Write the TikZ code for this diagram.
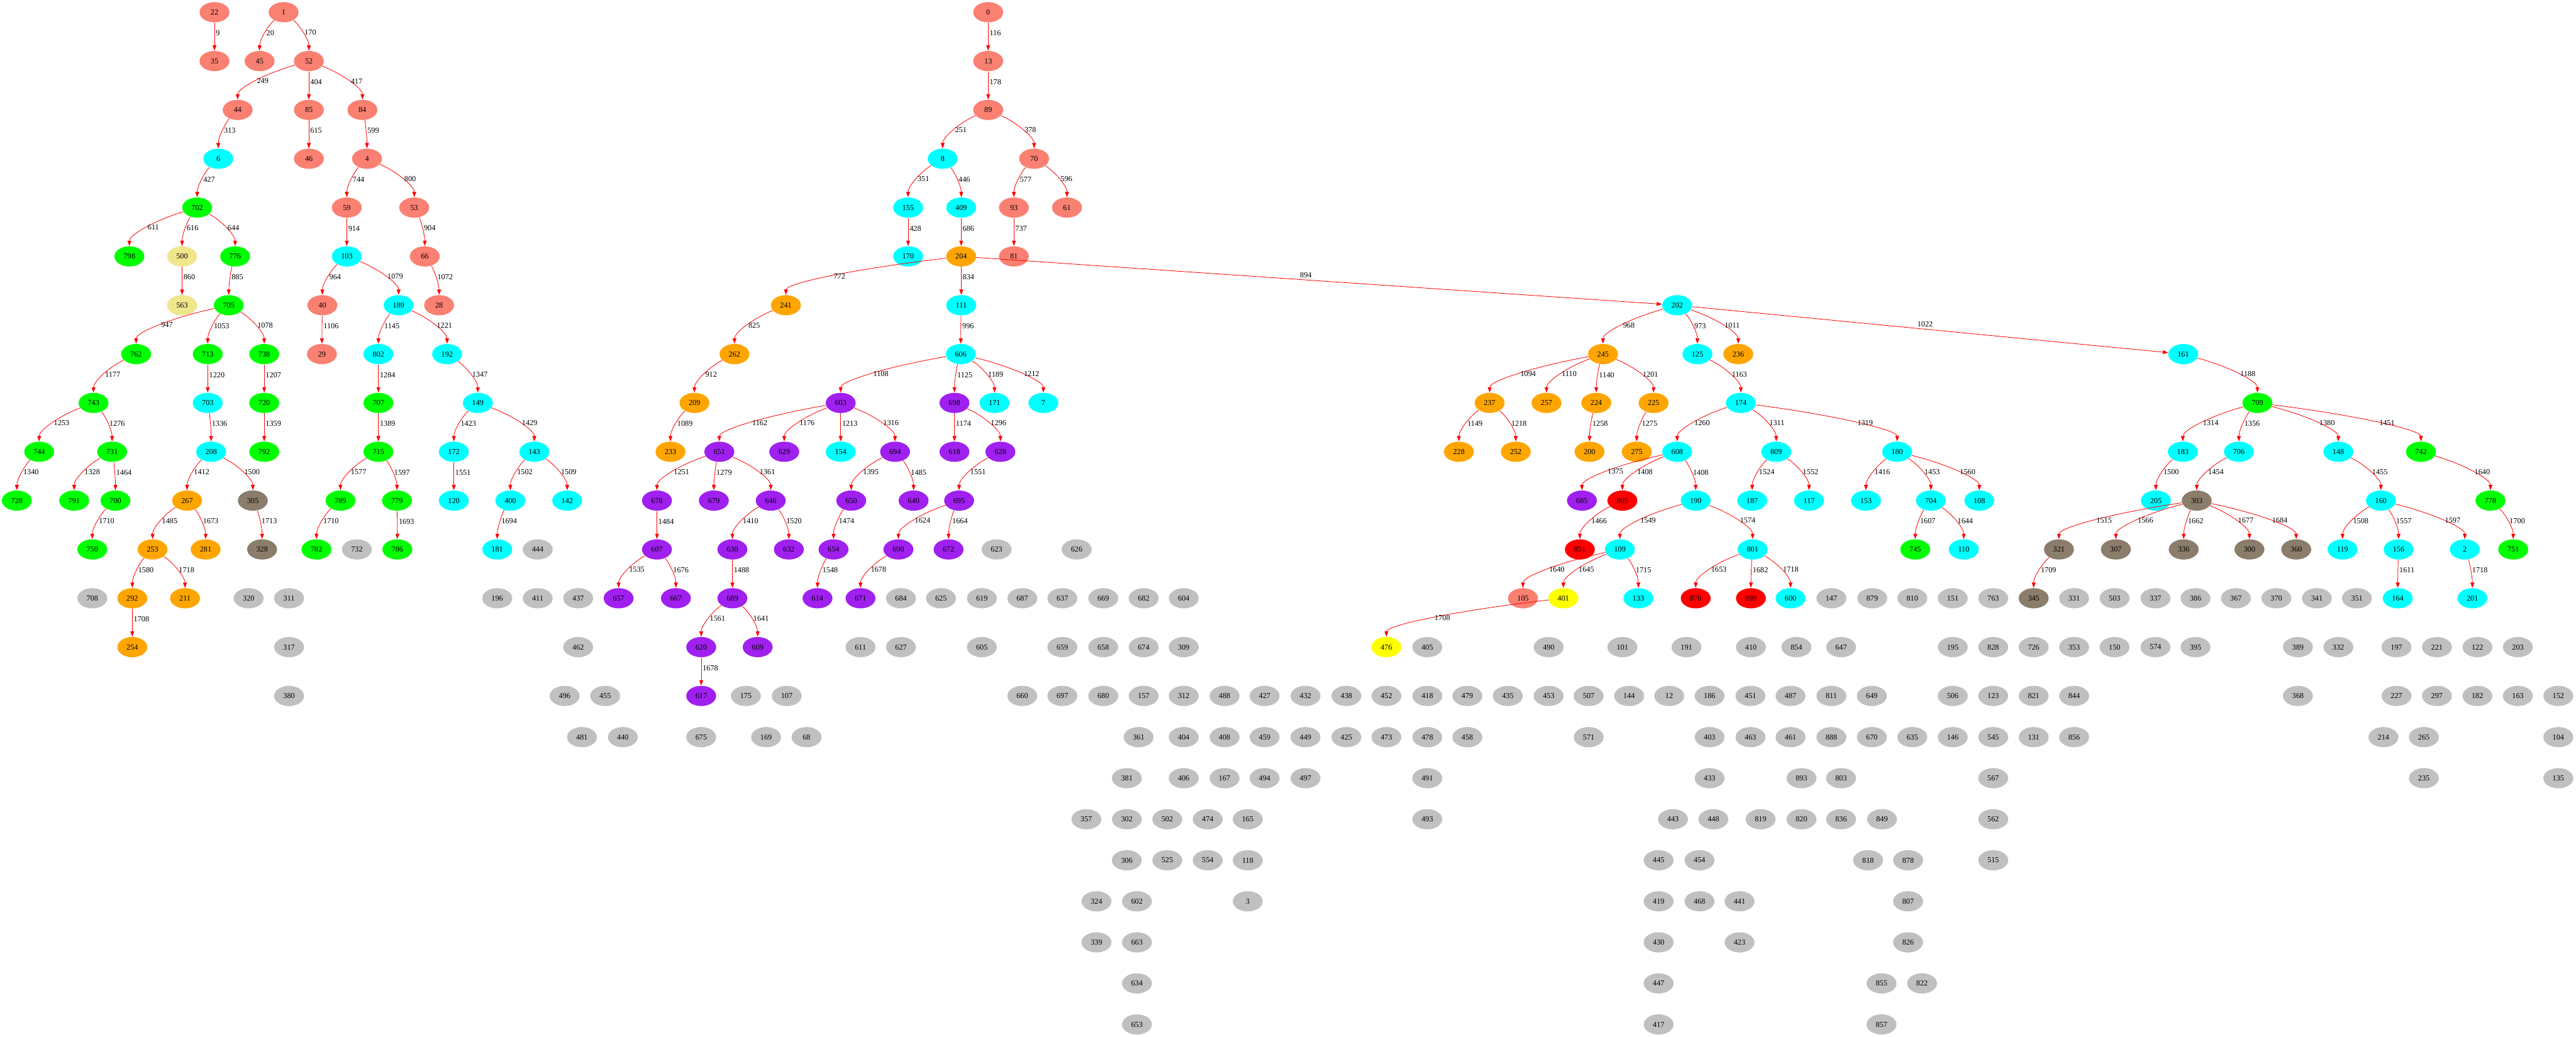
\documentclass[tikz,border=0pt]{standalone}
\usepackage{fontspec}
\setmainfont{Liberation Serif}
\usetikzlibrary{shapes.geometric,arrows.meta,calc}

\definecolor{gvsalmon}{HTML}{FA8072}
\definecolor{gvcyan}{HTML}{00FFFF}
\definecolor{gvgreen}{HTML}{00FF00}
\definecolor{gvkhaki}{HTML}{F0E68C}
\definecolor{gvorange}{HTML}{FFA500}
\definecolor{gvpurple}{HTML}{A020F0}
\definecolor{gvred}{HTML}{FF0000}
\definecolor{gvyellow}{HTML}{FFFF00}
\definecolor{gvtaupe}{HTML}{8B7D6B}
\definecolor{gvgray}{HTML}{C0C0C0}

\tikzset{
  vtx/.style={ellipse, inner sep=0pt, minimum width=7.1mm, minimum height=4.8mm,
    font=\fontsize{5.2}{6}\selectfont},
  salv/.style={vtx, fill=gvsalmon},
  cyav/.style={vtx, fill=gvcyan},
  grnv/.style={vtx, fill=gvgreen},
  khav/.style={vtx, fill=gvkhaki},
  orav/.style={vtx, fill=gvorange},
  purv/.style={vtx, fill=gvpurple},
  redv/.style={vtx, fill=gvred},
  yelv/.style={vtx, fill=gvyellow},
  taupv/.style={vtx, fill=gvtaupe},
  grayv/.style={vtx, fill=gvgray},
  link/.style={draw=gvred, line width=0.35pt, -{Triangle[length=1.25mm,width=0.9mm]}},
  elab/.style={font=\fontsize{5.2}{6}\selectfont, inner sep=0.8pt},
}

% curved edge: leaves toward the child, enters it from above
\newcommand{\lnk}[3]{%
  \draw[link] let \p1=(n#1), \p2=(n#2) in
    (n#1) .. controls ({\x1+0.6*(\x2-\x1)},{\y1+0.25*(\y2-\y1)})
            and ({\x2},{\y2-0.45*(\y2-\y1)}) .. (n#2)
    node[elab, pos=0.5, anchor=west] {#3};}
% long, nearly flat edge
\newcommand{\lnkflat}[3]{%
  \draw[link] (n#1) -- (n#2) node[elab, pos=0.47, anchor=south west] {#3};}

\begin{document}
\begin{tikzpicture}
  \path[use as bounding box, fill=white] (0,0) rectangle (61.13,-24.61);

  % salmon vertices
  \foreach \n/\x/\r in {22/5.09/0, 1/6.73/0, 0/23.45/0, 35/5.09/1, 45/6.16/1, 52/7.33/1,
      13/23.45/1, 44/5.64/2, 85/7.33/2, 84/8.60/2, 89/23.45/2, 46/7.33/3, 4/8.71/3,
      70/24.54/3, 59/8.23/4, 53/9.83/4, 93/24.06/4, 61/25.32/4, 66/10.08/5, 81/24.06/5,
      40/7.65/6, 28/10.42/6, 29/7.64/7, 105/36.14/12}
    \node[salv] (n\n) at (\x,{-0.29-1.159*\r}) {\n};

  % cyan vertices
  \foreach \n/\x/\r in {6/5.18/3, 8/22.37/3, 155/21.55/4, 409/22.81/4, 103/8.23/5,
      170/21.55/5, 189/9.46/6, 111/22.81/6, 202/39.80/6, 802/8.98/7, 192/10.61/7,
      606/22.80/7, 125/40.28/7, 161/51.81/7, 703/4.93/8, 149/11.34/8, 171/23.60/8,
      7/24.76/8, 174/41.31/8, 208/5.01/9, 172/10.77/9, 143/12.68/9, 154/19.95/9,
      608/39.80/9, 809/42.15/9, 180/45.02/9, 183/51.80/9, 706/53.13/9, 148/55.49/9,
      120/10.77/10, 400/12.11/10, 142/13.46/10, 190/40.24/10, 187/41.58/10,
      117/42.93/10, 153/44.28/10, 704/45.82/10, 108/46.97/10, 205/51.16/10,
      160/56.50/10, 181/11.80/11, 109/38.44/11, 801/41.59/11, 110/46.60/11,
      119/55.59/11, 156/56.92/11, 2/58.49/11, 133/38.88/12, 600/42.49/12,
      164/56.90/12, 201/58.67/12}
    \node[cyav] (n\n) at (\x,{-0.29-1.159*\r}) {\n};

  % green vertices
  \foreach \n/\x/\r in {702/4.68/4, 798/3.07/5, 776/5.58/5, 705/5.43/6, 762/3.23/7,
      713/4.93/7, 738/6.27/7, 743/2.22/8, 720/6.27/8, 707/8.98/8, 709/53.57/8,
      744/0.93/9, 731/2.66/9, 792/6.27/9, 715/8.98/9, 742/57.45/9, 728/0.40/10,
      791/1.76/10, 700/2.74/10, 789/8.08/10, 779/9.42/10, 778/59.10/10, 750/2.19/11,
      782/7.51/11, 786/9.43/11, 745/45.45/11, 751/59.64/11}
    \node[grnv] (n\n) at (\x,{-0.29-1.159*\r}) {\n};

  % khaki, orange, red, yellow vertices
  \foreach \n/\x/\r in {500/4.32/5, 563/4.32/6}
    \node[khav] (n\n) at (\x,{-0.29-1.159*\r}) {\n};
  \foreach \n/\x/\r in {204/22.81/5, 241/18.65/6, 262/17.43/7, 245/38.04/7, 236/41.25/7,
      209/16.48/8, 237/35.35/8, 257/36.70/8, 224/37.88/8, 225/39.24/8, 233/15.91/9,
      228/34.62/9, 252/35.97/9, 200/37.72/9, 275/38.84/9, 267/4.44/10, 253/3.62/11,
      281/4.88/11, 292/3.14/12, 211/4.39/12, 254/3.14/13}
    \node[orav] (n\n) at (\x,{-0.29-1.159*\r}) {\n};
  \foreach \n/\x/\r in {805/38.50/10, 851/37.49/11, 876/40.24/12, 899/41.55/12}
    \node[redv] (n\n) at (\x,{-0.29-1.159*\r}) {\n};
  \foreach \n/\x/\r in {401/37.10/12, 476/32.90/13}
    \node[yelv] (n\n) at (\x,{-0.29-1.159*\r}) {\n};

  % purple vertices
  \foreach \n/\x/\r in {603/19.95/8, 698/22.65/8, 651/17.07/9, 629/18.61/9, 694/21.24/9,
      618/22.65/9, 628/23.74/9, 678/15.59/10, 679/16.94/10, 646/18.29/10, 650/20.20/10,
      640/21.68/10, 695/22.76/10, 685/37.54/10, 607/15.59/11, 630/17.38/11,
      632/18.72/11, 654/19.78/11, 690/21.32/11, 672/22.51/11, 657/14.68/12,
      667/16.04/12, 689/17.38/12, 614/19.40/12, 671/20.42/12, 620/16.64/13,
      609/17.98/13, 617/16.64/14}
    \node[purv] (n\n) at (\x,{-0.29-1.159*\r}) {\n};

  % taupe vertices
  \foreach \n/\x/\r in {305/6.00/10, 303/52.13/10, 328/6.22/11, 321/48.86/11,
      307/50.21/11, 336/51.82/11, 300/53.38/11, 360/54.49/11, 345/48.26/12}
    \node[taupv] (n\n) at (\x,{-0.29-1.159*\r}) {\n};

  % gray vertices on the ranks
  \foreach \n/\x/\r in {732/8.47/11, 444/12.76/11, 623/23.65/11, 626/25.55/11,
      708/2.19/12, 320/5.90/12, 311/6.86/12, 196/11.80/12, 411/12.76/12, 437/13.72/12,
      684/21.38/12, 625/22.33/12, 619/23.30/12, 687/24.26/12, 637/25.21/12,
      669/26.18/12, 682/27.14/12, 604/28.09/12, 147/43.46/12, 879/44.43/12,
      810/45.38/12, 151/46.34/12, 763/47.30/12, 331/49.22/12, 503/50.18/12,
      337/51.15/12, 386/52.10/12, 367/53.06/12, 370/54.02/12, 341/54.98/12,
      351/55.93/12,
      317/6.86/13, 462/13.72/13, 611/20.42/13, 627/21.38/13, 605/23.30/13,
      659/25.21/13, 658/26.18/13, 674/27.14/13, 309/28.09/13, 405/33.87/13,
      490/36.75/13, 101/38.50/13, 191/40.02/13, 410/41.55/13, 854/42.63/13,
      647/43.69/13, 195/46.34/13, 828/47.30/13, 726/48.26/13, 353/49.22/13,
      150/50.18/13, 574/51.15/13, 395/52.10/13, 389/54.53/13, 332/55.49/13,
      197/56.87/13, 221/57.83/13, 122/58.79/13, 203/59.75/13,
      380/6.86/14, 496/13.40/14, 455/14.36/14, 175/17.70/14, 107/18.67/14,
      660/24.26/14, 697/25.21/14, 680/26.18/14, 157/27.14/14, 312/28.09/14,
      488/29.06/14, 427/30.01/14, 432/30.98/14, 438/31.95/14, 452/32.90/14,
      418/33.87/14, 479/34.82/14, 435/35.78/14, 453/36.75/14, 507/37.70/14,
      144/38.66/14, 12/39.61/14, 186/40.57/14, 451/41.54/14, 487/42.49/14,
      811/43.46/14, 649/44.42/14, 506/46.34/14, 123/47.30/14, 821/48.26/14,
      844/49.22/14, 368/54.53/14, 227/56.87/14, 297/57.83/14, 182/58.79/14,
      163/59.75/14, 152/60.71/14}
    \node[grayv] (n\n) at (\x,{-0.29-1.159*\r}) {\n};

  % gray vertices packed below
  \foreach \n/\x/\r in {481/13.81/1, 440/14.78/1, 675/16.64/1, 169/18.18/1, 68/19.14/1,
      361/27.02/1, 404/28.09/1, 408/29.06/1, 459/30.01/1, 449/30.98/1, 425/31.95/1,
      473/32.90/1, 478/33.87/1, 458/34.82/1, 571/37.70/1, 403/40.57/1, 463/41.54/1,
      461/42.49/1, 888/43.46/1, 670/44.42/1, 635/45.38/1, 146/46.34/1, 545/47.30/1,
      131/48.26/1, 856/49.22/1, 214/56.56/1, 265/57.52/1, 104/60.71/1,
      381/26.74/2, 406/28.09/2, 167/29.06/2, 494/30.01/2, 497/30.98/2, 491/33.87/2,
      433/40.57/2, 893/42.75/2, 803/43.69/2, 567/47.30/2, 235/57.52/2, 135/60.71/2,
      357/25.78/3, 302/26.74/3, 502/27.70/3, 474/28.66/3, 165/29.61/3, 493/33.87/3,
      443/39.70/3, 448/40.66/3, 819/41.78/3, 820/42.75/3, 836/43.69/3, 849/44.66/3,
      562/47.30/3,
      306/26.74/4, 525/27.70/4, 554/28.66/4, 118/29.61/4, 445/39.36/4, 454/40.33/4,
      818/44.33/4, 878/45.28/4, 515/47.30/4,
      324/26.02/5, 602/26.98/5, 3/29.61/5, 419/39.36/5, 468/40.33/5, 441/41.28/5,
      807/45.28/5,
      339/26.02/6, 663/26.98/6, 430/39.36/6, 423/41.28/6, 826/45.28/6,
      634/26.98/7, 447/39.36/7, 855/44.65/7, 822/45.61/7,
      653/26.98/8, 417/39.36/8, 857/44.65/8}
    \node[grayv] (n\n) at (\x,{-16.52-0.974*\r}) {\n};

  % left trees
  \foreach \a/\b/\w in {22/35/9, 1/45/20, 1/52/170, 52/44/249, 52/85/404, 52/84/417,
      44/6/313, 85/46/615, 84/4/599, 6/702/427, 4/59/744, 4/53/800, 702/798/611,
      702/500/616, 702/776/644, 59/103/914, 53/66/904, 500/563/860, 776/705/885,
      103/40/964, 103/189/1079, 66/28/1072, 705/762/947, 705/713/1053, 705/738/1078,
      40/29/1106, 189/802/1145, 189/192/1221, 762/743/1177, 713/703/1220,
      738/720/1207, 802/707/1284, 192/149/1347, 743/744/1253, 743/731/1276,
      703/208/1336, 720/792/1359, 707/715/1389, 149/172/1423, 149/143/1429,
      744/728/1340, 731/791/1328, 731/700/1464, 208/267/1412, 208/305/1500,
      715/789/1577, 715/779/1597, 172/120/1551, 143/400/1502, 143/142/1509,
      700/750/1710, 267/253/1485, 267/281/1673, 305/328/1713, 789/782/1710,
      779/786/1693, 400/181/1694, 253/292/1580, 253/211/1718, 292/254/1708}
    \lnk{\a}{\b}{\w};

  % tree of 0
  \foreach \a/\b/\w in {0/13/116, 13/89/178, 89/8/251, 89/70/378, 8/155/351, 8/409/446,
      70/93/577, 70/61/596, 155/170/428, 409/204/686, 93/81/737, 204/241/772,
      204/111/834, 241/262/825, 111/606/996, 262/209/912, 209/233/1089,
      606/603/1108, 606/698/1125, 606/171/1189, 606/7/1212, 603/651/1162,
      603/629/1176, 603/154/1213, 603/694/1316, 698/618/1174, 698/628/1296,
      651/678/1251, 651/679/1279, 651/646/1361, 694/650/1395, 694/640/1485,
      628/695/1551, 678/607/1484, 646/630/1410, 646/632/1520, 650/654/1474,
      695/690/1624, 695/672/1664, 607/657/1535, 607/667/1676, 630/689/1488,
      654/614/1548, 690/671/1678, 689/620/1561, 689/609/1641, 620/617/1678}
    \lnk{\a}{\b}{\w};

  % subtree of 202
  \lnkflat{204}{202}{894}
  \lnkflat{202}{161}{1022}
  \foreach \a/\b/\w in {202/245/968, 202/125/973, 202/236/1011, 245/237/1094,
      245/257/1110, 245/224/1140, 245/225/1201, 125/174/1163, 237/228/1149,
      237/252/1218, 224/200/1258, 225/275/1275, 174/608/1260, 174/809/1311,
      174/180/1319, 608/685/1375, 608/805/1408, 608/190/1408, 809/187/1524,
      809/117/1552, 180/153/1416, 180/704/1453, 180/108/1560, 805/851/1466,
      190/109/1549, 190/801/1574, 704/745/1607, 704/110/1644, 109/105/1640,
      109/401/1645, 109/133/1715, 801/876/1653, 801/899/1682, 801/600/1718,
      401/476/1708}
    \lnk{\a}{\b}{\w};

  % subtree of 161
  \foreach \a/\b/\w in {161/709/1188, 709/183/1314, 709/706/1356, 709/148/1380,
      709/742/1451, 183/205/1500, 706/303/1454, 148/160/1455, 742/778/1640,
      303/321/1515, 303/307/1566, 303/336/1662, 303/300/1677, 303/360/1684,
      160/119/1508, 160/156/1557, 160/2/1597, 778/751/1700, 321/345/1709,
      156/164/1611, 2/201/1718}
    \lnk{\a}{\b}{\w};
\end{tikzpicture}
\end{document}
